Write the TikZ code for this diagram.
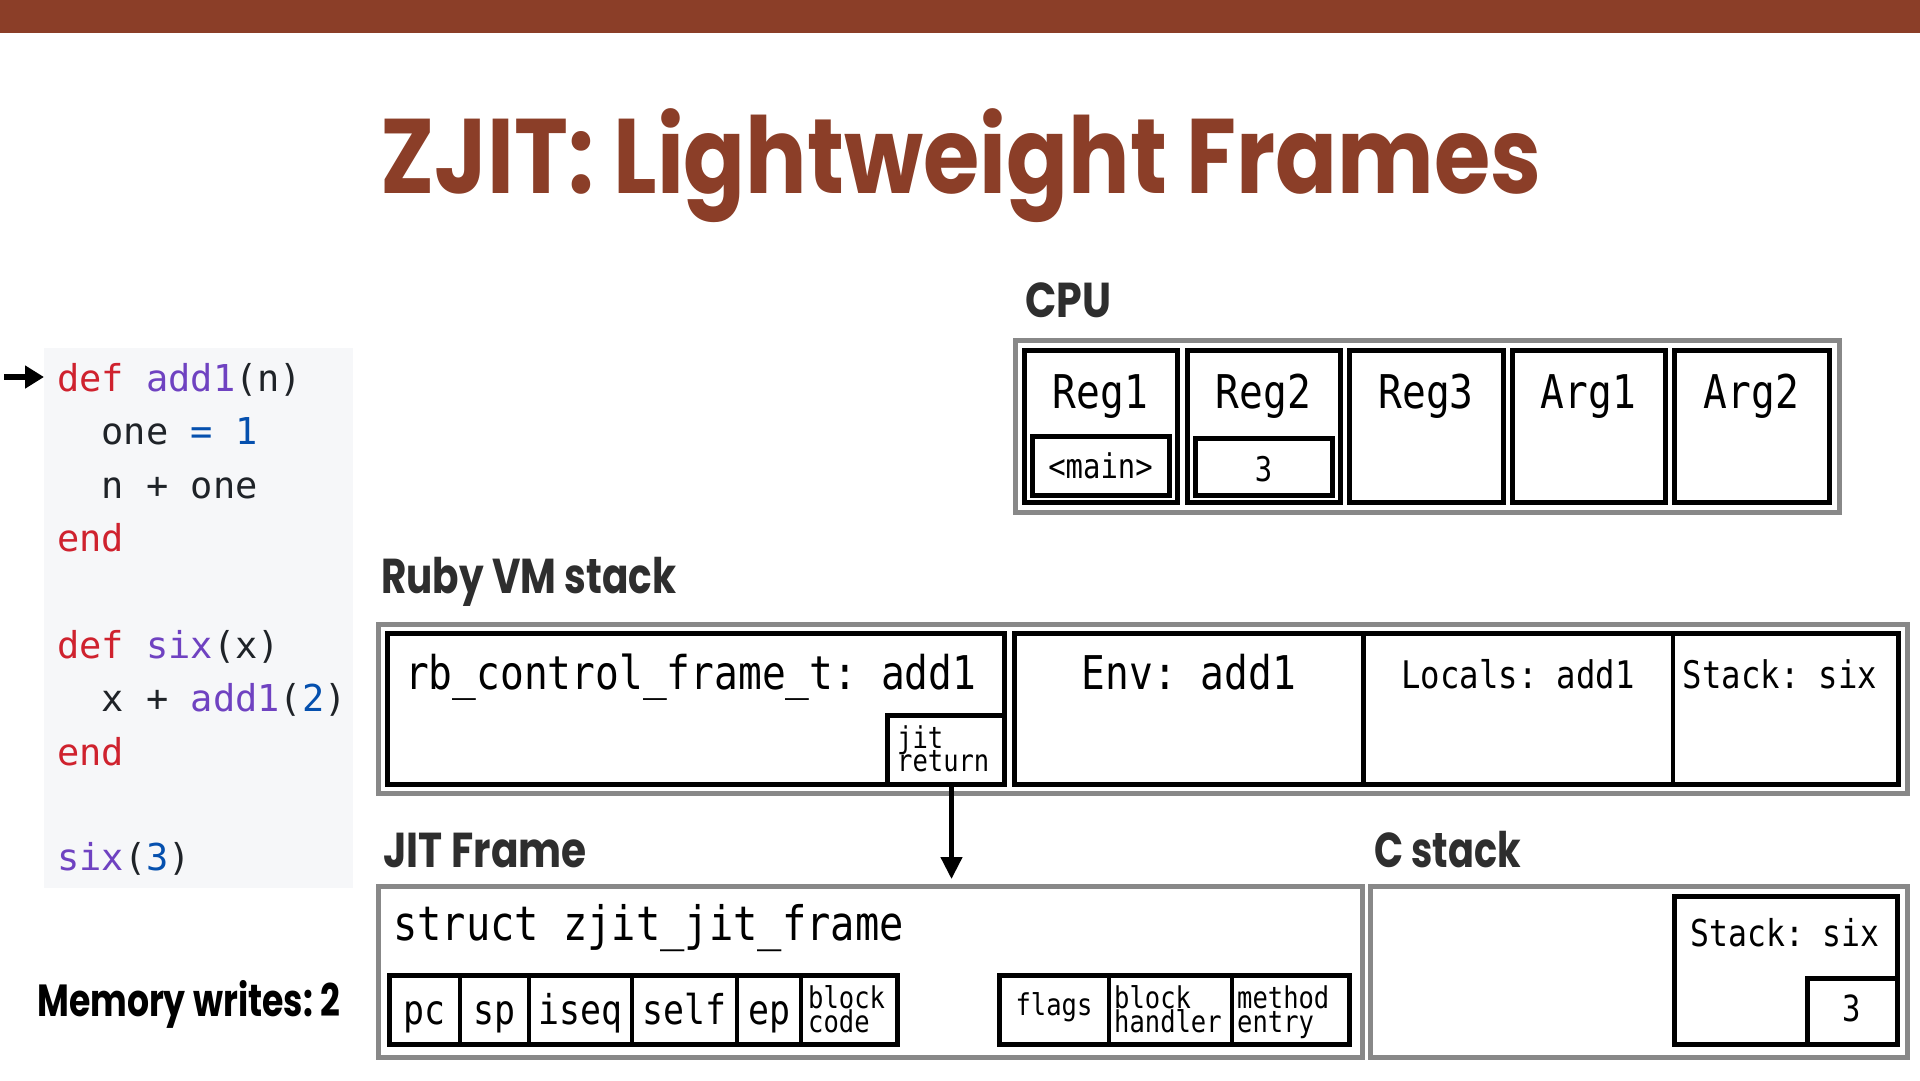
\documentclass[tikz,border=0pt]{standalone}
\usepackage{fontspec}
\usetikzlibrary{arrows.meta}
\newfontfamily\headfont{Poppins}
\newfontfamily\monofont{DejaVu Sans Mono}[FakeStretch=0.85]
\newfontfamily\codefont{DejaVu Sans Mono}
\definecolor{zbrown}{RGB}{139,62,40}
\definecolor{zgray}{RGB}{136,136,136}
\definecolor{zhead}{RGB}{46,46,46}
\definecolor{codebgc}{RGB}{246,247,249}
\definecolor{ckw}{RGB}{207,34,46}
\definecolor{cfn}{RGB}{111,66,193}
\definecolor{ccn}{RGB}{5,80,174}
\definecolor{ctx}{RGB}{31,35,40}
\newcommand\kw[1]{\textcolor{ckw}{#1}}
\newcommand\fn[1]{\textcolor{cfn}{#1}}
\newcommand\cn[1]{\textcolor{ccn}{#1}}
\newcommand\fs[1]{\fontsize{#1}{#1}\selectfont}
\newcommand\sx[2]{\scalebox{#1}[1]{#2}}
\newcommand\mkbox[6]{%
  \node[#1, anchor=north west, outer sep=0pt, inner sep=0pt,
        minimum width={(#5-#3)*1pt}, minimum height={(#6-#4)*1pt}] (#2) at (#3,#4) {};}
\tikzset{
  outerbox/.style={draw=zgray, line width=5pt},
  cellbox/.style={draw=black, line width=5pt},
  thincell/.style={draw=black, line width=3.5pt},
  heading/.style={anchor=base west, inner sep=0pt, text=zhead, font=\headfont\bfseries\fs{49}},
  codeline/.style={anchor=base west, inner sep=0pt, text=ctx, font=\codefont\fs{37}},
  bigmono/.style={inner sep=0pt, font=\monofont\fs{46.5}},
  midmono/.style={inner sep=0pt, font=\monofont\fs{37}},
  cellmono/.style={inner sep=0pt, font=\monofont\fs{41}},
  smallmono/.style={inner sep=0pt, font=\monofont\fs{30}},
  arrowline/.style={line width=4.5pt, -{Triangle[length=22pt,width=21pt]}},
}
\begin{document}
\frenchspacing
\begin{tikzpicture}[x=1pt,y=-1pt]
\useasboundingbox (0,0) rectangle (1920,1080);
\fill[white] (0,0) rectangle (1920,1080);
% top bar
\mkbox{fill=zbrown}{topbar}{0}{0}{1920}{33}
% title
\node[anchor=base west, inner sep=0pt, text=zbrown, font=\headfont\bfseries\fs{106}] (title) at (380,193) {\sx{0.861}{ZJIT: Lightweight Frames}};

% code panel
\mkbox{fill=codebgc}{codebg}{44}{348}{353}{888}
\node[codeline] (c1) at (57,391) {\kw{def} \fn{add1}(n)};
\node[codeline] (c2) at (101.5,444) {one \cn{= 1}};
\node[codeline] (c3) at (101.5,498) {n + one};
\node[codeline] (c4) at (57,551) {\kw{end}};
\node[codeline] (c5) at (57,658) {\kw{def} \fn{six}(x)};
\node[codeline] (c6) at (101.5,711) {x + \fn{add1}(\cn{2})};
\node[codeline] (c7) at (57,765) {\kw{end}};
\node[codeline] (c8) at (57,870) {\fn{six}(\cn{3})};
\coordinate (ptrtail) at (4,377);
\draw[line width=5.5pt, -{Triangle[length=19pt,width=22pt]}] (ptrtail) -- (ptrtail -| codebg.west);

\node[anchor=base west, inner sep=0pt, text=black, font=\headfont\bfseries\fs{45}] (mem) at (37,1016) {\sx{0.77}{Memory writes: 2}};

% CPU
\node[heading] (cpulbl) at (1025,317) {\sx{0.84}{CPU}};
\mkbox{outerbox}{cpu}{1015}{340}{1839}{512}
\mkbox{cellbox}{reg1}{1024}{350}{1177}{502}
\mkbox{cellbox}{reg2}{1187}{350}{1340}{502}
\mkbox{cellbox}{reg3}{1349}{350}{1503}{502}
\mkbox{cellbox}{arg1}{1512}{350}{1665}{502}
\mkbox{cellbox}{arg2}{1674}{350}{1829}{502}
\node[bigmono, anchor=base] (reg1t) at (1100.5,408) {Reg1};
\node[bigmono, anchor=base] (reg2t) at (1263.5,408) {Reg2};
\node[bigmono, anchor=base] (reg3t) at (1426,408) {Reg3};
\node[bigmono, anchor=base] (arg1t) at (1588.5,408) {Arg1};
\node[bigmono, anchor=base] (arg2t) at (1751.5,408) {Arg2};
\mkbox{cellbox}{mainbox}{1032}{436}{1169}{495}
\mkbox{cellbox}{threebox}{1195}{438}{1332}{495}
\node[inner sep=0pt, font=\monofont\fs{34}, anchor=base] (maint) at (1100.5,478) {<main>};
\node[inner sep=0pt, font=\monofont\fs{34}, anchor=base] (threet) at (1263.5,481) {3};

% Ruby VM stack
\node[heading] (vmlbl) at (381,593) {\sx{0.795}{Ruby VM stack}};
\mkbox{outerbox}{vm}{378}{624}{1907}{793}
\mkbox{cellbox}{rbcf}{387}{633}{1004}{784}
\mkbox{cellbox}{env}{1014}{633}{1363}{784}
\mkbox{thincell}{locals}{1363}{633}{1673}{784}
\mkbox{thincell}{vmstack}{1673}{633}{1898}{784}
\draw[cellbox] (env.north west) rectangle (vmstack.south east);
\mkbox{cellbox}{jitret}{887}{715}{1004}{784}
\node[bigmono, anchor=base west] (rbcft) at (405,689) {rb\_control\_frame\_t: add1};
\node[bigmono, anchor=base] (envt) at (1189,689) {Env: add1};
\node[midmono, font=\monofont\fs{38}, anchor=base] (localst) at (1518,688) {Locals: add1};
\node[midmono, font=\monofont\fs{38}, anchor=base] (vmstackt) at (1780,688) {Stack: six};
\node[smallmono, anchor=base west] (jitt1) at (897,748) {jit};
\node[smallmono, anchor=base west] (jitt2) at (897,771) {return};

% JIT Frame
\node[heading] (jitlbl) at (383,867) {\sx{0.83}{JIT Frame}};
\mkbox{outerbox}{jitframe}{378}{886}{1362}{1057}
\node[bigmono, font=\monofont\fs{47.5}, anchor=base west] (structt) at (393,940) {struct zjit\_jit\_frame};
\mkbox{thincell}{pc}{389}{975}{460}{1044}
\mkbox{thincell}{sp}{460}{975}{529}{1044}
\mkbox{thincell}{iseq}{529}{975}{632}{1044}
\mkbox{thincell}{self}{632}{975}{737}{1044}
\mkbox{thincell}{ep}{737}{975}{801}{1044}
\mkbox{thincell}{blockcode}{801}{975}{897}{1044}
\draw[cellbox] (pc.north west) rectangle (blockcode.south east);
\mkbox{thincell}{flags}{999}{975}{1109}{1044}
\mkbox{thincell}{blockhandler}{1109}{975}{1232}{1044}
\mkbox{thincell}{methodentry}{1232}{975}{1349}{1044}
\draw[cellbox] (flags.north west) rectangle (methodentry.south east);
\node[cellmono, anchor=base] (pct) at (424.5,1024) {pc};
\node[cellmono, anchor=base] (spt) at (494.5,1024) {sp};
\node[cellmono, anchor=base] (iseqt) at (580.5,1024) {iseq};
\node[cellmono, anchor=base] (selft) at (684.5,1024) {self};
\node[cellmono, anchor=base] (ept) at (769,1024) {ep};
\node[smallmono, anchor=base west] (bc1) at (808,1008) {block};
\node[smallmono, anchor=base west] (bc2) at (808,1032) {code};
\node[smallmono, anchor=base] (flagst) at (1054,1015) {flags};
\node[smallmono, anchor=base west] (bh1) at (1114,1008) {block};
\node[smallmono, anchor=base west] (bh2) at (1114,1032) {handler};
\node[smallmono, anchor=base west] (me1) at (1237,1008) {method};
\node[smallmono, anchor=base west] (me2) at (1237,1032) {entry};

% C stack
\node[heading] (cslbl) at (1374,867) {\sx{0.78}{C stack}};
\mkbox{outerbox}{cstack}{1370}{886}{1907}{1057}
\mkbox{cellbox}{cstk}{1674}{896}{1897}{1044}
\mkbox{cellbox}{cthree}{1807}{978}{1897}{1044}
\node[midmono, font=\monofont\fs{37}, anchor=base] (cstkt) at (1785,946) {Stack: six};
\node[midmono, font=\monofont\fs{36}, anchor=base] (cthreet) at (1852,1021) {3};

% connector
\draw[arrowline, shorten >=7pt] ([xshift=6pt]jitret.south) -- ([xshift=6pt]jitret.south |- jitframe.north);
\end{tikzpicture}
\end{document}
